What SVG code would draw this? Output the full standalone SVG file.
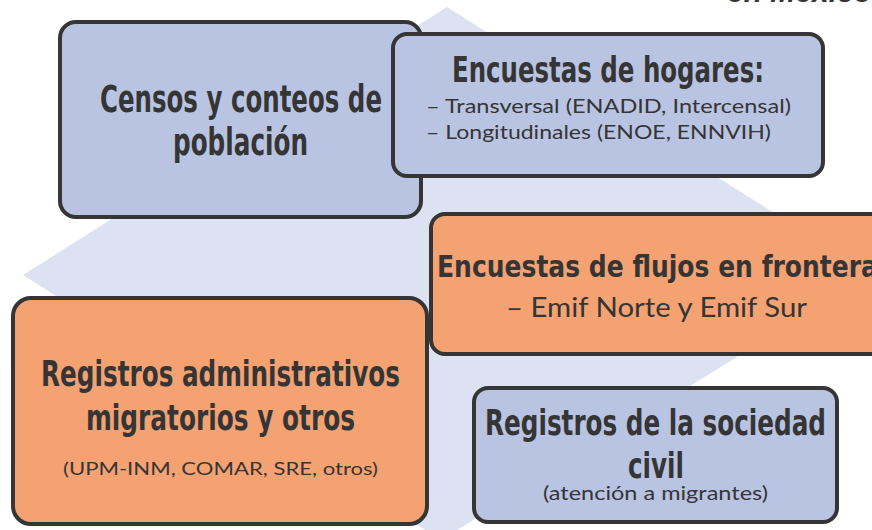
<svg xmlns="http://www.w3.org/2000/svg" width="872" height="530" viewBox="0 0 872 530">
<style>
.blue{fill:#b9c4e3;stroke:#353535;stroke-width:4}
.orange{fill:#f5a273;stroke:#353535;stroke-width:4}
.h{font-family:"DejaVu Sans Condensed","DejaVu Sans",sans-serif;font-weight:bold;fill:#353535;text-anchor:start}
.s{font-family:"Lato","Liberation Sans",sans-serif;fill:#353535;text-anchor:start}
</style>
<rect width="872" height="530" fill="#ffffff"/>
<polygon points="447,7 871,274 441,540 23,275" fill="#dde2f3"/>
<text x="727" y="2" font-family="Liberation Sans, sans-serif" font-weight="bold" font-style="italic" font-size="30" fill="#353535">en México</text>
<g id="censos">
<rect class="blue" x="60" y="22" width="361" height="195" rx="16"/>
<text class="h" x="100" y="112" font-size="37" textLength="282" lengthAdjust="spacingAndGlyphs">Censos y conteos de</text>
<text class="h" x="173" y="155" font-size="37" textLength="135" lengthAdjust="spacingAndGlyphs">población</text>
</g>
<g id="hogares">
<rect class="blue" x="393" y="34" width="430" height="142" rx="14"/>
<text class="h" x="452" y="82" font-size="35" textLength="312" lengthAdjust="spacingAndGlyphs">Encuestas de hogares:</text>
<text class="s" x="426" y="113" font-size="20" textLength="365" lengthAdjust="spacingAndGlyphs">– Transversal (ENADID, Intercensal)</text>
<text class="s" x="426" y="139" font-size="20" textLength="345" lengthAdjust="spacingAndGlyphs">– Longitudinales (ENOE, ENNVIH)</text>
</g>
<g id="flujos">
<rect class="orange" x="431" y="214" width="470" height="140" rx="14"/>
<text class="h" x="437" y="277" font-size="31" textLength="441" lengthAdjust="spacingAndGlyphs">Encuestas de flujos en frontera</text>
<text class="s" x="506" y="317" font-size="27" textLength="301" lengthAdjust="spacingAndGlyphs">– Emif Norte y Emif Sur</text>
</g>
<g id="registros-admin">
<rect class="orange" x="13" y="298" width="414" height="226" rx="18"/>
<text class="h" x="41" y="386" font-size="35" textLength="359" lengthAdjust="spacingAndGlyphs">Registros administrativos</text>
<text class="h" x="86" y="430" font-size="35" textLength="269" lengthAdjust="spacingAndGlyphs">migratorios y otros</text>
<text class="s" x="63" y="475" font-size="18" textLength="315" lengthAdjust="spacingAndGlyphs">(UPM-INM, COMAR, SRE, otros)</text>
</g>
<g id="sociedad-civil">
<rect class="blue" x="474" y="388" width="363" height="134" rx="14"/>
<text class="h" x="485" y="435" font-size="35" textLength="341" lengthAdjust="spacingAndGlyphs">Registros de la sociedad</text>
<text class="h" x="628" y="478" font-size="35" textLength="56" lengthAdjust="spacingAndGlyphs">civil</text>
<text class="s" x="543" y="500" font-size="20" textLength="225" lengthAdjust="spacingAndGlyphs">(atención a migrantes)</text>
</g>
<g id="connectors"></g>
</svg>
